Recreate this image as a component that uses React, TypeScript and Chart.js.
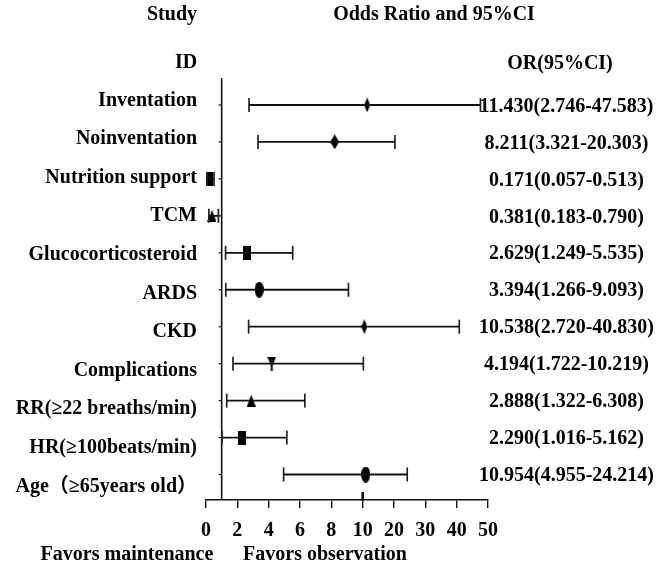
import React, { useEffect, useRef } from "react";
import { Chart, registerables } from "chart.js";

Chart.register(...registerables);

// ---------------- data ----------------
const STUDIES = [
  "Inventation",
  "Noinventation",
  "Nutrition support",
  "TCM",
  "Glucocorticosteroid",
  "ARDS",
  "CKD",
  "Complications",
  "RR(≥22 breaths/min)",
  "HR(≥100beats/min)",
  "Age（≥65years old）",
];
const OR_VALUES = [11.43, 8.211, 0.171, 0.381, 2.629, 3.394, 10.538, 4.194, 2.888, 2.29, 10.954];
const LOWER_CI = [2.746, 3.321, 0.057, 0.183, 1.249, 1.266, 2.72, 1.722, 1.322, 1.016, 4.955];
const UPPER_CI = [47.583, 20.303, 0.513, 0.79, 5.535, 9.093, 40.83, 10.219, 6.308, 5.162, 24.214];
const X_TICKS = [0, 2, 4, 6, 8, 10, 20, 30, 40, 50];
const REFERENCE_OR = 1;
const BREAK_AT = 10;

// marker shapes per row (style only)
const MARKERS = [
  "thinDiamond",
  "diamond",
  "rect",
  "triangle",
  "rect",
  "ellipse",
  "thinDiamond",
  "triangleDown",
  "triangle",
  "rect",
  "ellipse",
];

const FONT = "'Liberation Serif', 'Times New Roman', 'Noto Sans CJK SC', serif";

// piecewise axis: every tick label is equally spaced
function toPos(v: number): number {
  for (let i = 0; i < X_TICKS.length - 1; i++) {
    const a = X_TICKS[i];
    const b = X_TICKS[i + 1];
    if (v <= b || i === X_TICKS.length - 2) {
      return i + (v - a) / (b - a);
    }
  }
  return 0;
}

function fmt(v: number) {
  return v.toFixed(3);
}

function makeMarker(shape: string): HTMLCanvasElement {
  const dims: Record<string, [number, number]> = {
    thinDiamond: [6, 15],
    diamond: [9, 15],
    rect: [8, 14],
    triangle: [9, 12],
    triangleDown: [9, 14],
    ellipse: [9, 16],
  };
  const [w, h] = dims[shape] || [8, 14];
  const c = document.createElement("canvas");
  c.width = w;
  c.height = h;
  const g = c.getContext("2d")!;
  g.fillStyle = "#000";
  g.beginPath();
  if (shape === "thinDiamond" || shape === "diamond") {
    g.moveTo(w / 2, 0);
    g.lineTo(w, h / 2);
    g.lineTo(w / 2, h);
    g.lineTo(0, h / 2);
    g.closePath();
  } else if (shape === "rect") {
    g.rect(0, 0, w, h);
  } else if (shape === "triangle") {
    g.moveTo(w / 2, 0);
    g.lineTo(w, h);
    g.lineTo(0, h);
    g.closePath();
  } else if (shape === "triangleDown") {
    g.moveTo(0, 0);
    g.lineTo(w, 0);
    g.lineTo(w / 2, h * 0.75);
    g.closePath();
    g.rect(w / 2 - 1, 0, 2, h);
  } else {
    g.ellipse(w / 2, h / 2, w / 2, h / 2, 0, 0, Math.PI * 2);
  }
  g.fill();
  return c;
}

const overlayPlugin = {
  id: "forestOverlay",
  beforeDatasetsDraw(chart: any) {
    const { ctx, chartArea, scales } = chart;
    const xs = scales.x;
    const ys = scales.yR;
    const x1 = xs.getPixelForValue(toPos(REFERENCE_OR));
    ctx.save();
    ctx.strokeStyle = "#111";
    ctx.lineWidth = 1.6;
    ctx.beginPath();
    ctx.moveTo(x1, chartArea.top);
    ctx.lineTo(x1, chartArea.bottom);
    ctx.stroke();
    ctx.lineWidth = 1.2;
    STUDIES.forEach((_, i) => {
      const y = ys.getPixelForValue(i);
      ctx.beginPath();
      ctx.moveTo(x1 - 3, y);
      ctx.lineTo(x1, y);
      ctx.stroke();
    });
    const xb = xs.getPixelForValue(toPos(BREAK_AT));
    ctx.lineWidth = 2.6;
    ctx.beginPath();
    ctx.moveTo(xb, chartArea.bottom - 8);
    ctx.lineTo(xb, chartArea.bottom + 1);
    ctx.stroke();
    ctx.restore();
  },
  afterDraw(chart: any) {
    const { ctx } = chart;
    ctx.save();
    ctx.fillStyle = "#000";
    ctx.font = `bold 20px ${FONT}`;
    ctx.textBaseline = "alphabetic";
    ctx.textAlign = "center";
    ctx.fillText("Study", 172, 20);
    ctx.fillText("Odds Ratio and 95%CI", 434, 20);
    ctx.fillText("ID", 186, 68);
    ctx.fillText("OR(95%CI)", 560, 69);
    ctx.fillText("Favors maintenance", 127, 560);
    ctx.fillText("Favors observation", 325, 560);
    ctx.restore();
  },
};

export default function App() {
  const ref = useRef<HTMLCanvasElement | null>(null);

  useEffect(() => {
    if (!ref.current) return;
    const rows = STUDIES.map((_, i) => i);
    const whiskers: any[] = [];
    const caps: any[] = [];
    rows.forEach((i) => {
      whiskers.push({ x: toPos(LOWER_CI[i]), y: i });
      whiskers.push({ x: toPos(UPPER_CI[i]), y: i });
      whiskers.push({ x: null, y: null });
      caps.push({ x: toPos(LOWER_CI[i]), y: i });
      caps.push({ x: toPos(UPPER_CI[i]), y: i });
    });
    const points = rows.map((i) => ({ x: toPos(OR_VALUES[i]), y: i }));
    const markerImgs = MARKERS.map((m) => makeMarker(m));
    const orText = rows.map((i) => `${fmt(OR_VALUES[i])}(${fmt(LOWER_CI[i])}-${fmt(UPPER_CI[i])})`);
    const rowTicks = (scale: any) => {
      scale.ticks = rows.map((i) => ({ value: i }));
    };

    const chart = new Chart(ref.current, {
      type: "scatter",
      data: {
        datasets: [
          {
            data: whiskers,
            showLine: true,
            spanGaps: false,
            borderColor: "#111",
            borderWidth: 1.8,
            pointRadius: 0,
            yAxisID: "yR",
          },
          {
            data: caps,
            showLine: false,
            pointStyle: "line",
            rotation: 90,
            pointRadius: 7,
            borderColor: "#222",
            borderWidth: 1.7,
            yAxisID: "yR",
          },
          {
            data: points,
            showLine: false,
            pointStyle: markerImgs as any,
            pointRadius: 6,
            yAxisID: "yR",
          },
        ],
      },
      options: {
        animation: false,
        responsive: false,
        events: [],
        layout: { padding: { top: 78, left: 0, right: 0, bottom: 0 } },
        plugins: { legend: { display: false }, tooltip: { enabled: false } },
        scales: {
          x: {
            type: "linear",
            min: 0,
            max: X_TICKS.length - 1,
            afterBuildTicks: (scale: any) => {
              scale.ticks = X_TICKS.map((_, i) => ({ value: i }));
            },
            afterFit: (scale: any) => {
              scale.height = 70;
            },
            grid: {
              display: true,
              drawOnChartArea: false,
              drawTicks: true,
              tickLength: 8,
              color: "#111",
              lineWidth: 1.4,
            },
            border: { display: true, color: "#111", width: 1.4 },
            ticks: {
              autoSkip: false,
              maxRotation: 0,
              padding: 11,
              color: "#000",
              font: { family: FONT, size: 20, weight: "bold" },
              callback: (v: any) => String(X_TICKS[Math.round(Number(v))]),
            },
          },
          yL: {
            type: "linear",
            position: "left",
            reverse: true,
            min: -0.58,
            max: 10.35,
            afterBuildTicks: rowTicks,
            afterFit: (scale: any) => {
              scale.width = 206;
            },
            grid: { display: false, drawTicks: false },
            border: { display: false },
            ticks: {
              autoSkip: false,
              padding: 9,
              color: "#000",
              font: { family: FONT, size: 20, weight: "bold" },
              callback: (v: any) => STUDIES[Math.round(Number(v))],
            },
          },
          yR: {
            type: "linear",
            position: "right",
            reverse: true,
            min: -0.73,
            max: 10.69,
            afterBuildTicks: rowTicks,
            afterFit: (scale: any) => {
              scale.width = 184;
              scale.paddingTop = 0;
              scale.paddingBottom = 0;
            },
            grid: { display: false, drawTicks: false },
            border: { display: false },
            ticks: {
              autoSkip: false,
              mirror: true,
              crossAlign: "center",
              padding: 166,
              labelOffset: 1.5,
              color: "#000",
              font: { family: FONT, size: 20, weight: "bold" },
              callback: (v: any) => orText[Math.round(Number(v))],
            },
          },
        },
      },
      plugins: [overlayPlugin],
    } as any);

    return () => chart.destroy();
  }, []);

  return (
    <div style={{ position: "fixed", left: 0, top: 0, width: 672, height: 570, background: "#fff" }}>
      <canvas ref={ref} width={672} height={570} style={{ width: 672, height: 570, display: "block" }} />
    </div>
  );
}
